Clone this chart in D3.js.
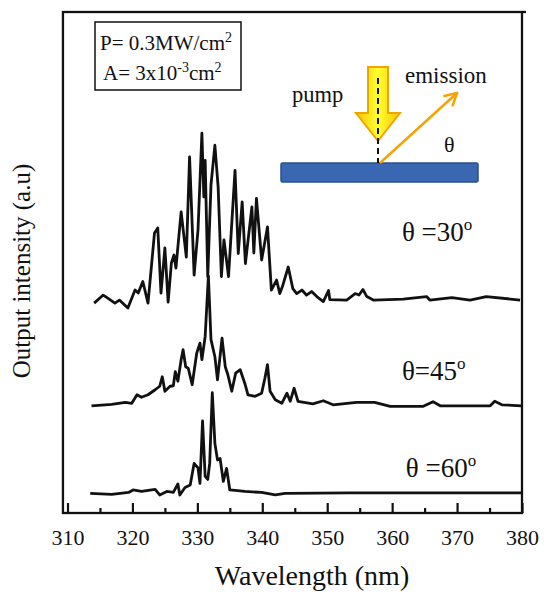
<!DOCTYPE html>
<html>
<head>
<meta charset="utf-8">
<style>
 body {margin:0; background:#fff;}
 svg {display:block;}
 text {font-family:"Liberation Serif","DejaVu Serif",serif; fill:#111;}
</style>
<title>Output intensity vs wavelength</title>
</head>
<body>
<div id="contenedor"></div>
<script src="https://d3js.org/d3.v7.min.js"></script>
<script>
var width = 544,
height = 594;

// spectra (wavelength nm, intensity above own baseline, a.u.)
var wl30 = [314.1,315.5,316.2,317.3,318.0,318.8,319.3,320.4,320.9,321.6,
            322.4,323.4,323.9,324.4,325.0,325.5,326.0,326.4,326.7,327.5,
            328.3,328.8,329.5,330.1,330.7,331.0,331.2,331.6,332.1,332.7,
            333.2,333.7,334.1,334.8,335.8,336.3,336.9,337.4,338.4,338.7,
            339.1,339.9,340.8,341.4,342.2,342.7,343.1,344.0,344.7,345.3,
            346.1,346.8,347.6,348.4,349.4,350.2,350.4,353.0,354.3,354.9,
            355.5,356.1,357.1,361.7,365.3,365.8,369.2,372.0,374.5,379.7];
var int30 = [-1.0,0.6,0.0,-1.0,-0.4,-1.4,-2.0,1.6,1.0,3.3,
             -1.0,13.0,14.0,1.0,10.0,-0.8,7.0,8.6,6.0,17.2,
             8.2,28.2,4.6,13.6,32.9,20.2,27.5,4.3,22.6,30.5,
             22.2,4.3,11.6,4.3,25.5,8.9,19.2,6.9,18.2,9.0,
             19.9,7.6,14.2,1.6,3.6,0.9,2.3,6.2,1.9,0.9,
             1.6,0.6,1.3,0.3,-0.7,1.5,-0.3,-0.4,0.9,0.6,
             1.7,0.3,-0.4,-0.2,0.3,-0.4,0.1,-0.4,0.3,-0.4];

var wl45 = [313.7,316.8,318.9,319.9,320.7,321.4,322.4,323.5,324.2,324.6,
            325.0,325.8,326.3,326.6,327.0,327.5,327.8,328.2,328.6,329.2,
            329.9,330.4,330.7,331.2,331.7,332.1,332.7,333.1,333.8,334.3,
            334.7,335.3,335.9,336.6,337.3,337.8,338.9,339.9,340.4,340.8,
            341.2,342.0,343.0,343.8,344.3,344.9,345.5,347.8,349.4,350.9,
            354.5,357.3,359.7,364.8,366.3,367.4,375.1,375.8,376.9,379.9];
var int45 = [0,0.3,0.7,0.5,2.2,1.7,2.2,3.2,3.9,5.8,
             2.9,3.9,4.0,6.8,4.9,9.2,11.2,7.8,7.5,4.2,
             10.5,12.5,9.2,13.8,25.9,13.2,9.8,5.2,13.5,7.8,
             6.2,2.9,6.5,7.2,4.5,2.2,1.9,2.5,5.5,8.2,
             2.9,1.2,0.5,2.5,0.9,3.5,0.9,0.4,1.0,0.2,
             0.7,0.7,-0.1,-0.1,0.8,0,0,0.9,0.2,0];

var wl60 = [313.5,316.8,319.4,320.1,321.4,323.5,324.2,325.3,326.3,327.0,
            327.3,328.1,328.9,329.5,330.1,330.4,330.8,331.2,331.6,331.9,
            332.3,332.7,333.1,333.5,334.0,334.5,335.0,335.8,337.3,339.9,
            342.0,343.5,353.5,364.3,379.9];
var int60 = [-0.1,-0.3,0.1,0.6,0.3,0.7,-0.4,0.3,0.1,1.8,
             -0.4,1.1,1.6,5.9,5.0,1.9,14.4,3.3,2.7,5.9,
             20.0,9.9,6.6,6.9,2.3,4.9,0.6,0.5,0.3,0.1,
             -0.4,-0.1,0,0,0];

var angles = ["30", "45", "60"];
var offsets = [42.9, 21.4, 4.0];      // vertical shift of each spectrum
var majorTicks = [310,320,330,340,350,360,370,380];
var minorTicks = [315,325,335,345,355,365,375];

var series = [
  {angle: angles[0], off: offsets[0], wl: wl30, it: int30},
  {angle: angles[1], off: offsets[1], wl: wl45, it: int45},
  {angle: angles[2], off: offsets[2], wl: wl60, it: int60}
];
// where the angle labels sit (wavelength, a.u.), and whether a gap follows theta
var labelPos = [[361.5, 54.3, " "], [361.5, 26.6, ""], [362.1, 7.2, " "]];

var x = d3.scaleLinear().domain([310, 380]).range([67.5, 522]);
var y = d3.scaleLinear().domain([0, 100]).range([513, 12]);

var svg = d3.select("#contenedor").append("svg")
            .attr("width", width).attr("height", height);

// frame
var x0 = x(309.3), x1 = x(380), yT = y(100), yB = y(0);
svg.append("rect").attr("x", x0).attr("y", yT)
   .attr("width", x1 - x0).attr("height", yB - yT)
   .attr("fill", "none").attr("stroke", "#111").attr("stroke-width", 2.3);
svg.append("line").attr("x1", x1).attr("x2", x1 + 4).attr("y1", yT).attr("y2", yT)
   .attr("stroke", "#111").attr("stroke-width", 2.3);

// x axis, ticks pointing inward
var gx = svg.append("g").attr("transform", "translate(0," + yB + ")")
   .call(d3.axisBottom(x).tickValues(majorTicks).tickSize(-10).tickPadding(16)
           .tickFormat(d3.format("d")));
gx.select(".domain").remove();
gx.selectAll("line").attr("stroke", "#111").attr("stroke-width", 2.2);
gx.selectAll("text").attr("font-size", 22).attr("fill", "#111")
  .attr("font-family", "Liberation Serif");
var gm = svg.append("g").attr("transform", "translate(0," + yB + ")")
   .call(d3.axisBottom(x).tickValues(minorTicks).tickSize(-5).tickFormat(""));
gm.select(".domain").remove();
gm.selectAll("line").attr("stroke", "#111").attr("stroke-width", 2.2);

// spectra
var line = d3.line()
  .x(function(d){ return x(d[0]); })
  .y(function(d){ return y(d[1]); });

series.forEach(function(s, i) {
  var pts = s.wl.map(function(w, k){ return [w, s.it[k] + s.off]; });
  svg.append("path").datum(pts)
     .attr("d", line)
     .attr("fill", "none").attr("stroke", "#111")
     .attr("stroke-width", 2.8).attr("stroke-linejoin", "round");

  var lp = labelPos[i];
  var t = svg.append("text").attr("x", x(lp[0])).attr("y", y(lp[1]))
     .attr("font-size", 27);
  t.append("tspan").text("\u03b8" + lp[2] + "=" + s.angle);
  t.append("tspan").attr("dy", -11).attr("font-size", 17).text("o");
});

// axis titles
svg.append("text").attr("x", 312).attr("y", 585)
   .attr("text-anchor", "middle").attr("font-size", 28)
   .text("Wavelength (nm)");
svg.append("text").attr("transform", "translate(30,271) rotate(-90)")
   .attr("text-anchor", "middle").attr("font-size", 25)
   .text("Output intensity (a.u)");

// parameter box
svg.append("rect").attr("x", 95).attr("y", 22).attr("width", 146).attr("height", 68)
   .attr("fill", "#fff").attr("stroke", "#111").attr("stroke-width", 1.5);
var p1 = svg.append("text").attr("x", 100).attr("y", 50).attr("font-size", 21);
p1.append("tspan").text("P= 0.3MW/cm");
p1.append("tspan").attr("dy", -8).attr("font-size", 14).text("2");
var p2 = svg.append("text").attr("x", 103).attr("y", 80).attr("font-size", 21);
p2.append("tspan").text("A= 3x10");
p2.append("tspan").attr("dy", -8).attr("font-size", 14).text("-3");
p2.append("tspan").attr("dy", 8).text("cm");
p2.append("tspan").attr("dy", -8).attr("font-size", 14).text("2");

// pump / emission sketch
var defs = svg.append("defs");
var grad = defs.append("linearGradient").attr("id", "pumpGrad")
   .attr("x1", "0%").attr("x2", "100%").attr("y1", "0%").attr("y2", "0%");
grad.append("stop").attr("offset", "0%").attr("stop-color", "#f8c400");
grad.append("stop").attr("offset", "50%").attr("stop-color", "#ffff30");
grad.append("stop").attr("offset", "100%").attr("stop-color", "#f8c400");

svg.append("rect").attr("x", 281).attr("y", 163).attr("width", 197).attr("height", 19)
   .attr("fill", "#3a67b2").attr("stroke", "#2c4f8c").attr("stroke-width", 1.5)
   .attr("rx", 1.5);

var cx = 378;
var arrow = d3.path();
arrow.moveTo(cx - 10, 67); arrow.lineTo(cx + 10, 67); arrow.lineTo(cx + 10, 113);
arrow.lineTo(cx + 22, 113); arrow.lineTo(cx, 141); arrow.lineTo(cx - 22, 113);
arrow.lineTo(cx - 10, 113); arrow.closePath();
svg.append("path").attr("d", arrow.toString())
   .attr("fill", "url(#pumpGrad)").attr("stroke", "#f0a400").attr("stroke-width", 2)
   .attr("stroke-linejoin", "miter");
svg.append("line").attr("x1", cx).attr("x2", cx).attr("y1", 78).attr("y2", 163)
   .attr("stroke", "#111").attr("stroke-width", 2).attr("stroke-dasharray", "6,4");

var ex0 = 380, ey0 = 163, ex1 = 457, ey1 = 93;
var ang = Math.atan2(ey1 - ey0, ex1 - ex0);
svg.append("line").attr("x1", ex0).attr("y1", ey0).attr("x2", ex1).attr("y2", ey1)
   .attr("stroke", "#f5a300").attr("stroke-width", 2.5);
[-0.5, 0.5].forEach(function(a) {
  svg.append("line").attr("x1", ex1).attr("y1", ey1)
     .attr("x2", ex1 - 13 * Math.cos(ang + a)).attr("y2", ey1 - 13 * Math.sin(ang + a))
     .attr("stroke", "#f5a300").attr("stroke-width", 2.5).attr("stroke-linecap", "round");
});

svg.append("text").attr("x", 292).attr("y", 102).attr("font-size", 22.5).text("pump");
svg.append("text").attr("x", 405).attr("y", 83).attr("font-size", 23).text("emission");
svg.append("text").attr("x", 444).attr("y", 152).attr("font-size", 22).text("\u03b8");
</script>
</body>
</html>
